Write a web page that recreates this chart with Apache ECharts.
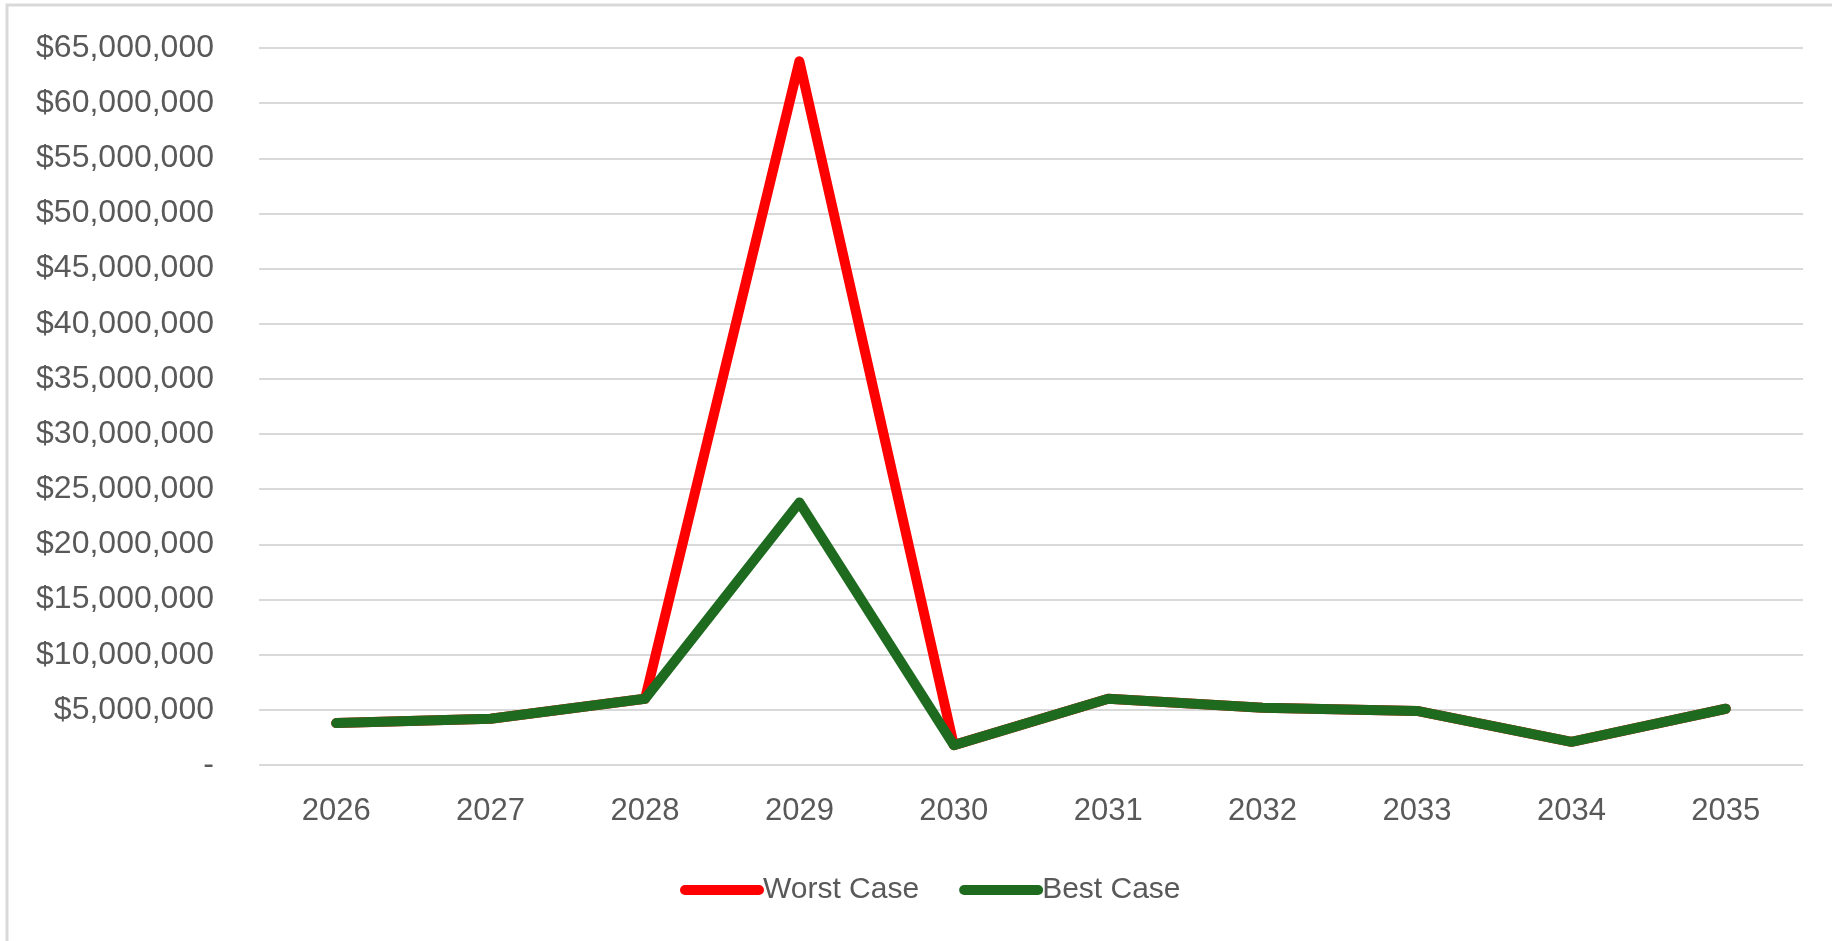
<!DOCTYPE html>
<html>
<head>
<meta charset="utf-8">
<title>Worst Case vs Best Case</title>
<script src="https://cdn.jsdelivr.net/npm/echarts@6/dist/echarts.min.js"></script>
<style>
  html, body { margin: 0; padding: 0; background: #ffffff; }
  #chart { width: 1832px; height: 941px; }
</style>
</head>
<body>
<div id="chart"></div>
<script>
// Yearly projected amounts under two scenarios
const years = ['2026', '2027', '2028', '2029', '2030', '2031', '2032', '2033', '2034', '2035'];
const worstCase = [3800000, 4200000, 6000000, 63800000, 1800000, 6000000, 5200000, 4900000, 2100000, 5100000];
const bestCase  = [3800000, 4200000, 6000000, 23800000, 1800000, 6000000, 5200000, 4900000, 2100000, 5100000];
const yTicks = { min: 0, max: 65000000, interval: 5000000 };

const labelColor = '#595959';
const gridColor = '#d9d9d9';

function money(v) {
  if (v === 0) return '-';
  return '$' + v.toLocaleString('en-US');
}

// rounded bar used as the legend swatch
const pill = 'path://M5,0 L79,0 A5,5 0 0 1 79,10 L5,10 A5,5 0 0 1 5,0 Z';

const chart = echarts.init(document.getElementById('chart'), null, { renderer: 'canvas' });
chart.setOption({
  animation: false,
  backgroundColor: '#ffffff',
  graphic: [{
    type: 'rect',
    shape: { x: 7, y: 5, width: 2000, height: 2000 },
    style: { fill: 'none', stroke: '#d9d9d9', lineWidth: 3 },
    silent: true
  }],
  grid: { left: 259, right: 29, top: 48, bottom: 176, containLabel: false },
  legend: {
    left: 675,
    top: 870,
    itemWidth: 84,
    itemHeight: 10,
    itemGap: 40,
    icon: pill,
    textStyle: {
      color: labelColor,
      fontFamily: '"Liberation Sans", Arial, sans-serif',
      fontSize: 30,
      padding: [0, 0, 0, -6]
    },
    data: ['Worst Case', 'Best Case']
  },
  xAxis: {
    type: 'category',
    data: years,
    boundaryGap: true,
    axisLine: { show: false },
    axisTick: { show: false },
    axisLabel: {
      color: labelColor,
      fontFamily: '"Liberation Sans", Arial, sans-serif',
      fontSize: 31,
      margin: 31
    }
  },
  yAxis: {
    type: 'value',
    min: yTicks.min,
    max: yTicks.max,
    interval: yTicks.interval,
    axisLine: { show: false },
    axisTick: { show: false },
    splitLine: { lineStyle: { color: gridColor, width: 2 } },
    axisLabel: {
      color: labelColor,
      fontFamily: '"Liberation Sans", Arial, sans-serif',
      fontSize: 32,
      margin: 45,
      formatter: money
    }
  },
  series: [
    {
      name: 'Worst Case',
      type: 'line',
      data: worstCase,
      showSymbol: false,
      symbol: 'none',
      color: '#ff0000',
      lineStyle: { color: '#ff0000', width: 10, cap: 'round', join: 'round' }
    },
    {
      name: 'Best Case',
      type: 'line',
      data: bestCase,
      showSymbol: false,
      symbol: 'none',
      color: '#1e6b20',
      lineStyle: { color: '#1e6b20', width: 10, cap: 'round', join: 'round' }
    }
  ]
});
</script>
</body>
</html>
